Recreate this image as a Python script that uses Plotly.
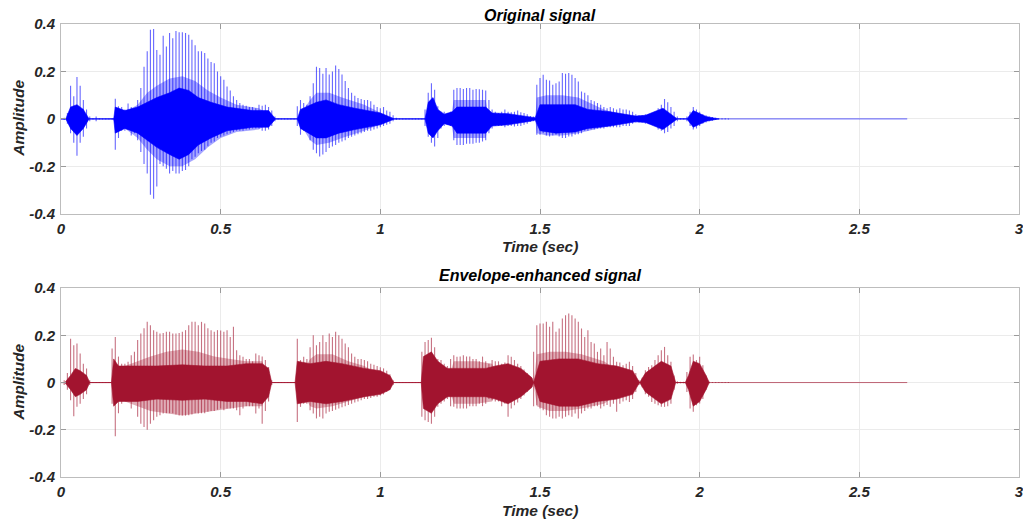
import plotly.graph_objects as go

# ---------------- data ----------------
frame_step = 0.01          # seconds between envelope frames
signal_duration = 2.65     # length of the recording (s)

x_ticks = [0, 0.5, 1, 1.5, 2, 2.5, 3]
x_tick_labels = ["0", "0.5", "1", "1.5", "2", "2.5", "3"]
y_ticks = [-0.4, -0.2, 0, 0.2, 0.4]
y_tick_labels = ["-0.4", "-0.2", "0", "0.2", "0.4"]

# Original signal: per-frame positive / negative peak (10 ms frames from t=0)
orig_hi = [
    0, 0.005, 0.025, 0.14, 0.095, 0.177, 0.14, 0.08, 0.04, 0.01,
    0.003, 0.01, 0.003, 0.002, 0.002, 0.002, 0.002, 0.085, 0.053, 0.05,
    0.04, 0.065, 0.05, 0.045, 0.08, 0.13, 0.22, 0.285, 0.376, 0.379,
    0.29, 0.27, 0.35, 0.305, 0.362, 0.34, 0.37, 0.365, 0.365, 0.362,
    0.355, 0.334, 0.31, 0.285, 0.285, 0.278, 0.255, 0.24, 0.235, 0.2,
    0.18, 0.165, 0.137, 0.12, 0.095, 0.08, 0.067, 0.06, 0.055, 0.05,
    0.05, 0.045, 0.06, 0.055, 0.06, 0.05, 0.035, 0.01, 0.002, 0.002,
    0.002, 0.002, 0.002, 0.002, 0.053, 0.08, 0.067, 0.06, 0.095, 0.15,
    0.22, 0.215, 0.19, 0.215, 0.187, 0.2, 0.225, 0.21, 0.187, 0.16,
    0.13, 0.11, 0.098, 0.088, 0.084, 0.08, 0.08, 0.074, 0.06, 0.05,
    0.045, 0.05, 0.035, 0.03, 0.015, 0.005, 0.002, 0.002, 0.002, 0.002,
    0.002, 0.002, 0.002, 0.002, 0.04, 0.11, 0.15, 0.123, 0.053, 0.03,
    0.03, 0.025, 0.03, 0.123, 0.13, 0.13, 0.126, 0.13, 0.13, 0.123,
    0.126, 0.125, 0.123, 0.12, 0.08, 0.04, 0.03, 0.025, 0.03, 0.04,
    0.03, 0.028, 0.03, 0.035, 0.028, 0.025, 0.02, 0.012, 0.01, 0.144,
    0.172, 0.186, 0.165, 0.162, 0.144, 0.15, 0.158, 0.193, 0.19, 0.193,
    0.186, 0.172, 0.158, 0.116, 0.11, 0.1, 0.08, 0.074, 0.067, 0.06,
    0.05, 0.045, 0.05, 0.045, 0.04, 0.045, 0.04, 0.04, 0.035, 0.03,
    0.02, 0.015, 0.015, 0.02, 0.02, 0.025, 0.03, 0.045, 0.06, 0.084,
    0.07, 0.05, 0.03, 0.01, 0.003, 0.003, 0.01, 0.03, 0.05, 0.04,
    0.03, 0.02, 0.015, 0.01, 0.008, 0.005, 0.003, 0.003, 0.003, 0.002,
]
orig_lo = [
    0, -0.005, -0.02, -0.06, -0.1, -0.155, -0.1, -0.075, -0.04, -0.01,
    -0.003, -0.01, -0.002, -0.002, -0.002, -0.002, -0.002, -0.13, -0.08, -0.05,
    -0.05, -0.045, -0.07, -0.06, -0.09, -0.14, -0.19, -0.23, -0.32, -0.337,
    -0.285, -0.19, -0.2, -0.21, -0.23, -0.22, -0.23, -0.23, -0.22, -0.215,
    -0.2, -0.17, -0.16, -0.145, -0.135, -0.13, -0.115, -0.1, -0.095, -0.08,
    -0.075, -0.07, -0.065, -0.06, -0.055, -0.05, -0.05, -0.05, -0.045, -0.045,
    -0.04, -0.04, -0.04, -0.05, -0.05, -0.045, -0.03, -0.01, -0.002, -0.002,
    -0.002, -0.002, -0.002, -0.002, -0.03, -0.067, -0.05, -0.05, -0.09, -0.13,
    -0.145, -0.158, -0.15, -0.14, -0.123, -0.116, -0.11, -0.1, -0.095, -0.09,
    -0.08, -0.075, -0.07, -0.065, -0.06, -0.055, -0.05, -0.05, -0.045, -0.04,
    -0.035, -0.03, -0.025, -0.02, -0.01, -0.005, -0.002, -0.002, -0.002, -0.002,
    -0.002, -0.002, -0.002, -0.002, -0.03, -0.075, -0.1, -0.116, -0.08, -0.04,
    -0.03, -0.025, -0.03, -0.09, -0.11, -0.11, -0.11, -0.105, -0.105, -0.105,
    -0.1, -0.1, -0.095, -0.09, -0.06, -0.04, -0.03, -0.03, -0.03, -0.035,
    -0.03, -0.03, -0.032, -0.03, -0.03, -0.025, -0.02, -0.012, -0.01, -0.067,
    -0.067, -0.06, -0.07, -0.074, -0.07, -0.067, -0.074, -0.08, -0.08, -0.074,
    -0.074, -0.067, -0.065, -0.06, -0.05, -0.05, -0.045, -0.045, -0.04, -0.04,
    -0.04, -0.035, -0.035, -0.035, -0.035, -0.035, -0.03, -0.03, -0.03, -0.02,
    -0.015, -0.015, -0.015, -0.02, -0.02, -0.025, -0.03, -0.045, -0.05, -0.06,
    -0.055, -0.04, -0.03, -0.01, -0.003, -0.003, -0.01, -0.03, -0.045, -0.04,
    -0.03, -0.02, -0.015, -0.01, -0.008, -0.005, -0.003, -0.003, -0.003, -0.002,
]
# Original signal: dense core band (breakpoints)
orig_core_t = [0.0, 0.015, 0.03, 0.05, 0.07, 0.088,
               0.165, 0.17, 0.20, 0.24, 0.27, 0.30, 0.34, 0.37, 0.40, 0.43, 0.47, 0.52, 0.60, 0.65, 0.672,
               0.74, 0.75, 0.80, 0.83, 0.87, 0.92, 1.00, 1.045,
               1.14, 1.15, 1.165, 1.18, 1.20, 1.225, 1.24, 1.33, 1.35, 1.40, 1.47, 1.485, 1.50, 1.55, 1.61,
               1.65, 1.72, 1.80, 1.83, 1.885, 1.93,
               1.96, 1.98, 2.02, 2.06]
orig_core_hi = [0, 0, 0.05, 0.06, 0.04, 0,
                0, 0.05, 0.035, 0.05, 0.07, 0.09, 0.11, 0.13, 0.12, 0.09, 0.07, 0.05, 0.035, 0.035, 0,
                0, 0.04, 0.07, 0.08, 0.06, 0.045, 0.025, 0,
                0, 0.07, 0.09, 0.04, 0.02, 0.03, 0.05, 0.05, 0.025, 0.022, 0.01, 0.005, 0.06, 0.06, 0.06,
                0.04, 0.03, 0.012, 0.015, 0.045, 0,
                0, 0.035, 0.01, 0]
orig_core_lo = [0, 0, -0.04, -0.07, -0.04, 0,
                0, -0.06, -0.04, -0.06, -0.09, -0.12, -0.15, -0.17, -0.15, -0.11, -0.08, -0.05, -0.035, -0.035, 0,
                0, -0.04, -0.08, -0.08, -0.06, -0.045, -0.025, 0,
                0, -0.06, -0.08, -0.05, -0.02, -0.03, -0.06, -0.06, -0.03, -0.025, -0.01, -0.005, -0.05, -0.06, -0.055,
                -0.04, -0.03, -0.012, -0.015, -0.045, 0,
                0, -0.035, -0.01, 0]
# Original signal: semi-dense middle band (breakpoints)
orig_mid_t = [0.16, 0.24, 0.27, 0.30, 0.34, 0.38, 0.42, 0.46, 0.50, 0.55, 0.62, 0.67,
              0.74, 0.78, 0.80, 0.84, 0.88, 0.95, 1.04,
              1.22, 1.23, 1.33, 1.34,
              1.485, 1.49, 1.52, 1.57, 1.62, 1.70, 1.80]
orig_mid_hi = [0, 0.06, 0.11, 0.14, 0.17, 0.18, 0.16, 0.12, 0.09, 0.06, 0.045, 0,
               0, 0.08, 0.11, 0.11, 0.09, 0.06, 0,
               0, 0.08, 0.08, 0,
               0, 0.09, 0.10, 0.10, 0.09, 0.04, 0]
orig_mid_lo = [0, -0.08, -0.13, -0.17, -0.2, -0.2, -0.17, -0.12, -0.08, -0.055, -0.045, 0,
               0, -0.09, -0.11, -0.1, -0.08, -0.05, 0,
               0, -0.08, -0.08, 0,
               0, -0.06, -0.07, -0.07, -0.06, -0.035, 0]

# Envelope-enhanced signal: per-frame positive / negative peak
enh_hi = [
    0, 0.01, 0.04, 0.186, 0.158, 0.165, 0.123, 0.08, 0.06, 0.01,
    0.002, 0.002, 0.002, 0.002, 0.002, 0.002, 0.144, 0.193, 0.11, 0.08,
    0.08, 0.088, 0.116, 0.13, 0.18, 0.208, 0.23, 0.257, 0.243, 0.222,
    0.215, 0.208, 0.21, 0.215, 0.215, 0.208, 0.208, 0.21, 0.215, 0.222,
    0.243, 0.257, 0.257, 0.243, 0.257, 0.25, 0.23, 0.222, 0.215, 0.222,
    0.22, 0.215, 0.222, 0.193, 0.236, 0.137, 0.116, 0.109, 0.1, 0.1,
    0.09, 0.123, 0.116, 0.11, 0.095, 0.066, 0.01, 0.002, 0.002, 0.002,
    0.002, 0.002, 0.002, 0.002, 0.186, 0.095, 0.109, 0.1, 0.15, 0.2,
    0.158, 0.172, 0.2, 0.172, 0.208, 0.193, 0.215, 0.2, 0.186, 0.165,
    0.15, 0.123, 0.109, 0.1, 0.1, 0.095, 0.09, 0.08, 0.075, 0.07,
    0.065, 0.06, 0.05, 0.035, 0.01, 0.002, 0.002, 0.002, 0.002, 0.002,
    0.002, 0.002, 0.002, 0.13, 0.172, 0.18, 0.19, 0.15, 0.1, 0.095,
    0.08, 0.07, 0.1, 0.116, 0.109, 0.11, 0.116, 0.11, 0.11, 0.1,
    0.1, 0.09, 0.11, 0.09, 0.08, 0.095, 0.09, 0.09, 0.08, 0.085,
    0.116, 0.109, 0.095, 0.08, 0.07, 0.055, 0.04, 0.015, 0.13, 0.243,
    0.25, 0.25, 0.257, 0.236, 0.257, 0.215, 0.229, 0.271, 0.285, 0.292,
    0.285, 0.271, 0.257, 0.229, 0.193, 0.222, 0.172, 0.165, 0.13, 0.144,
    0.116, 0.172, 0.144, 0.109, 0.088, 0.085, 0.073, 0.08, 0.088, 0.07,
    0.04, 0.01, 0.02, 0.052, 0.066, 0.073, 0.095, 0.116, 0.137, 0.151,
    0.116, 0.088, 0.03, 0.005, 0.003, 0.003, 0.045, 0.109, 0.119, 0.095,
    0.109, 0.073, 0.03, 0.003, 0.002, 0.002, 0.002, 0.002, 0.002, 0.002,
]
enh_lo = [
    0, -0.01, -0.03, -0.075, -0.143, -0.103, -0.09, -0.07, -0.05, -0.01,
    -0.002, -0.002, -0.002, -0.002, -0.002, -0.002, -0.09, -0.227, -0.13, -0.09,
    -0.075, -0.07, -0.11, -0.075, -0.145, -0.174, -0.188, -0.2, -0.174, -0.16,
    -0.145, -0.138, -0.131, -0.13, -0.13, -0.13, -0.135, -0.14, -0.14, -0.14,
    -0.138, -0.135, -0.13, -0.131, -0.13, -0.13, -0.124, -0.12, -0.12, -0.115,
    -0.11, -0.117, -0.11, -0.11, -0.11, -0.117, -0.138, -0.11, -0.1, -0.1,
    -0.1, -0.131, -0.11, -0.174, -0.12, -0.08, -0.01, -0.002, -0.002, -0.002,
    -0.002, -0.002, -0.002, -0.002, -0.167, -0.103, -0.09, -0.09, -0.117, -0.131,
    -0.152, -0.145, -0.152, -0.131, -0.124, -0.12, -0.115, -0.11, -0.105, -0.1,
    -0.095, -0.09, -0.085, -0.08, -0.075, -0.07, -0.07, -0.065, -0.06, -0.06,
    -0.055, -0.05, -0.04, -0.03, -0.01, -0.002, -0.002, -0.002, -0.002, -0.002,
    -0.002, -0.002, -0.002, -0.145, -0.16, -0.167, -0.174, -0.145, -0.103, -0.09,
    -0.08, -0.07, -0.1, -0.103, -0.11, -0.11, -0.11, -0.11, -0.1, -0.1,
    -0.1, -0.09, -0.1, -0.09, -0.07, -0.075, -0.08, -0.08, -0.1, -0.09,
    -0.145, -0.11, -0.096, -0.085, -0.07, -0.055, -0.04, -0.015, -0.1, -0.096,
    -0.11, -0.117, -0.138, -0.145, -0.152, -0.152, -0.145, -0.152, -0.145, -0.138,
    -0.145, -0.131, -0.152, -0.131, -0.12, -0.11, -0.11, -0.1, -0.1, -0.11,
    -0.1, -0.095, -0.103, -0.09, -0.124, -0.09, -0.08, -0.075, -0.082, -0.07,
    -0.04, -0.01, -0.02, -0.05, -0.06, -0.082, -0.09, -0.096, -0.103, -0.103,
    -0.1, -0.09, -0.03, -0.005, -0.003, -0.003, -0.04, -0.11, -0.124, -0.096,
    -0.089, -0.07, -0.03, -0.003, -0.002, -0.002, -0.002, -0.002, -0.002, -0.002,
]
enh_core_t = [0.0, 0.012, 0.03, 0.045, 0.06, 0.08, 0.09,
              0.158, 0.165, 0.18, 0.24, 0.30, 0.38, 0.45, 0.52, 0.58, 0.63, 0.65, 0.66,
              0.733, 0.74, 0.78, 0.83, 0.88, 0.95, 1.00, 1.03, 1.042,
              1.128, 1.135, 1.16, 1.18, 1.21, 1.23, 1.33, 1.36, 1.40, 1.44, 1.475, 1.48, 1.50, 1.56,
              1.62, 1.68, 1.74, 1.79, 1.812, 1.83, 1.88, 1.91, 1.925,
              1.955, 1.965, 1.98, 2.00, 2.02, 2.03]
enh_core_hi = [0, 0, 0.03, 0.06, 0.05, 0.03, 0,
               0, 0.10, 0.07, 0.07, 0.07, 0.075, 0.07, 0.07, 0.08, 0.08, 0.06, 0,
               0, 0.09, 0.08, 0.09, 0.08, 0.06, 0.05, 0.03, 0,
               0, 0.11, 0.13, 0.09, 0.06, 0.06, 0.06, 0.07, 0.08, 0.06, 0.02, 0, 0.09, 0.10,
               0.10, 0.08, 0.07, 0.05, 0, 0.04, 0.09, 0.07, 0,
               0, 0.03, 0.09, 0.08, 0.03, 0]
enh_core_lo = [0, 0, -0.03, -0.06, -0.05, -0.03, 0,
               0, -0.10, -0.08, -0.08, -0.07, -0.075, -0.07, -0.08, -0.08, -0.09, -0.06, 0,
               0, -0.09, -0.08, -0.09, -0.08, -0.06, -0.05, -0.03, 0,
               0, -0.11, -0.13, -0.09, -0.06, -0.06, -0.06, -0.07, -0.09, -0.06, -0.02, 0, -0.08, -0.10,
               -0.10, -0.08, -0.07, -0.05, 0, -0.04, -0.09, -0.07, 0,
               0, -0.03, -0.10, -0.08, -0.03, 0]
enh_mid_t = [0.2, 0.24, 0.28, 0.33, 0.38, 0.43, 0.48, 0.53, 0.58, 0.63, 0.66,
             0.74, 0.78, 0.80, 0.85, 0.90, 0.95, 1.04,
             1.21, 1.23, 1.30, 1.35, 1.38,
             1.48, 1.49, 1.53, 1.58, 1.63, 1.70, 1.80]
enh_mid_hi = [0.07, 0.09, 0.11, 0.13, 0.14, 0.13, 0.11, 0.10, 0.09, 0.09, 0,
              0, 0.1, 0.12, 0.12, 0.09, 0.07, 0,
              0, 0.09, 0.09, 0.08, 0,
              0, 0.12, 0.13, 0.13, 0.12, 0.09, 0]
enh_mid_lo = [-0.08, -0.1, -0.12, -0.13, -0.14, -0.13, -0.12, -0.11, -0.1, -0.1, 0,
              0, -0.1, -0.11, -0.1, -0.08, -0.06, 0,
              0, -0.09, -0.09, -0.08, 0,
              0, -0.1, -0.12, -0.12, -0.11, -0.09, 0]

titles = ["Original signal", "Envelope-enhanced signal"]
x_title = "Time (sec)"
y_title = "Amplitude"

# ---------------- styling ----------------
FONT = "Liberation Sans, Arial, sans-serif"
BLUE = (0, 0, 255)
RED = (162, 20, 47)


def rgba(c, a):
    return f"rgba({c[0]},{c[1]},{c[2]},{a})"


fig = go.Figure()


def add_signal(hi, lo, core_t, core_hi, core_lo, mid_t, mid_hi, mid_lo, color, xa, ya):
    n = min(len(hi), len(lo))
    t = [round(i * frame_step, 2) for i in range(n)]
    # baseline of the recording
    fig.add_trace(go.Scatter(x=[0, signal_duration], y=[0, 0], mode="lines",
                             line=dict(color=rgba(color, 0.8), width=0.8),
                             xaxis=xa, yaxis=ya, hoverinfo="skip", showlegend=False))
    # semi-dense band
    fig.add_trace(go.Scatter(x=mid_t + mid_t[::-1], y=mid_hi + mid_lo[::-1],
                             mode="lines", fill="toself", fillcolor=rgba(color, 0.35),
                             line=dict(width=0, color=rgba(color, 0)),
                             xaxis=xa, yaxis=ya, hoverinfo="skip", showlegend=False))
    # pitch spikes: one vertical stroke per frame, from its min to its max
    sx, sy = [], []
    for i in range(n):
        sx += [t[i], t[i], None]
        sy += [lo[i], hi[i], None]
    fig.add_trace(go.Scatter(x=sx, y=sy, mode="lines",
                             line=dict(color=rgba(color, 0.6), width=1.1),
                             xaxis=xa, yaxis=ya, hoverinfo="skip", showlegend=False))
    # dense core band
    fig.add_trace(go.Scatter(x=core_t + core_t[::-1], y=core_hi + core_lo[::-1],
                             mode="lines", fill="toself", fillcolor=rgba(color, 1),
                             line=dict(width=0.6, color=rgba(color, 1)),
                             xaxis=xa, yaxis=ya, hoverinfo="skip", showlegend=False))


add_signal(orig_hi, orig_lo, orig_core_t, orig_core_hi, orig_core_lo,
           orig_mid_t, orig_mid_hi, orig_mid_lo, BLUE, "x", "y")
add_signal(enh_hi, enh_lo, enh_core_t, enh_core_hi, enh_core_lo,
           enh_mid_t, enh_mid_hi, enh_mid_lo, RED, "x2", "y2")

tickfont = dict(family=FONT, size=15, color="#262626", weight="bold", style="italic")
axis_common = dict(showline=True, linecolor="#bdbdbd", linewidth=1, mirror="ticks",
                   ticks="inside", ticklen=5, tickcolor="#9a9a9a", tickwidth=1,
                   showgrid=True, gridcolor="#ebebeb", gridwidth=1, zeroline=False,
                   tickfont=tickfont, automargin=False)

# the page body adds an 8 px offset; margins are set so the plot lands where the reference has it
fig.update_layout(
    width=1023, height=517,
    margin=dict(l=53, r=12, t=16, b=48, autoexpand=False),
    paper_bgcolor="white", plot_bgcolor="white",
    showlegend=False,
    xaxis=dict(domain=[0, 1], anchor="y", range=[0, 3], tickvals=x_ticks, ticktext=x_tick_labels,
               ticklabelstandoff=1, **axis_common),
    yaxis=dict(domain=[0.581, 1], anchor="x", range=[-0.4, 0.4], tickvals=y_ticks, ticktext=y_tick_labels,
               ticklabelstandoff=2, **axis_common),
    xaxis2=dict(domain=[0, 1], anchor="y2", range=[0, 3], tickvals=x_ticks, ticktext=x_tick_labels,
                ticklabelstandoff=1, **axis_common),
    yaxis2=dict(domain=[0, 0.417], anchor="x2", range=[-0.4, 0.4], tickvals=y_ticks, ticktext=y_tick_labels,
                ticklabelstandoff=2, **axis_common),
)

lab = dict(family=FONT, size=16, color="#000000", weight="bold", style="italic")
labg = dict(family=FONT, size=15.5, color="#262626", weight="bold", style="italic")
annotations = [
    dict(text=titles[0], x=0.5, y=1.0183, font=lab),
    dict(text=titles[1], x=0.5, y=0.4444, font=lab),
    dict(text=x_title, x=0.5, y=0.508, font=labg),
    dict(text=x_title, x=0.5, y=-0.0744, font=labg),
    dict(text=y_title, x=-0.0444, y=0.792, font=labg, textangle=-90),
    dict(text=y_title, x=-0.0444, y=0.2093, font=labg, textangle=-90),
]
for a in annotations:
    fig.add_annotation(xref="paper", yref="paper", xanchor="center", yanchor="middle",
                       showarrow=False, **a)

fig.write_html("out.html")
